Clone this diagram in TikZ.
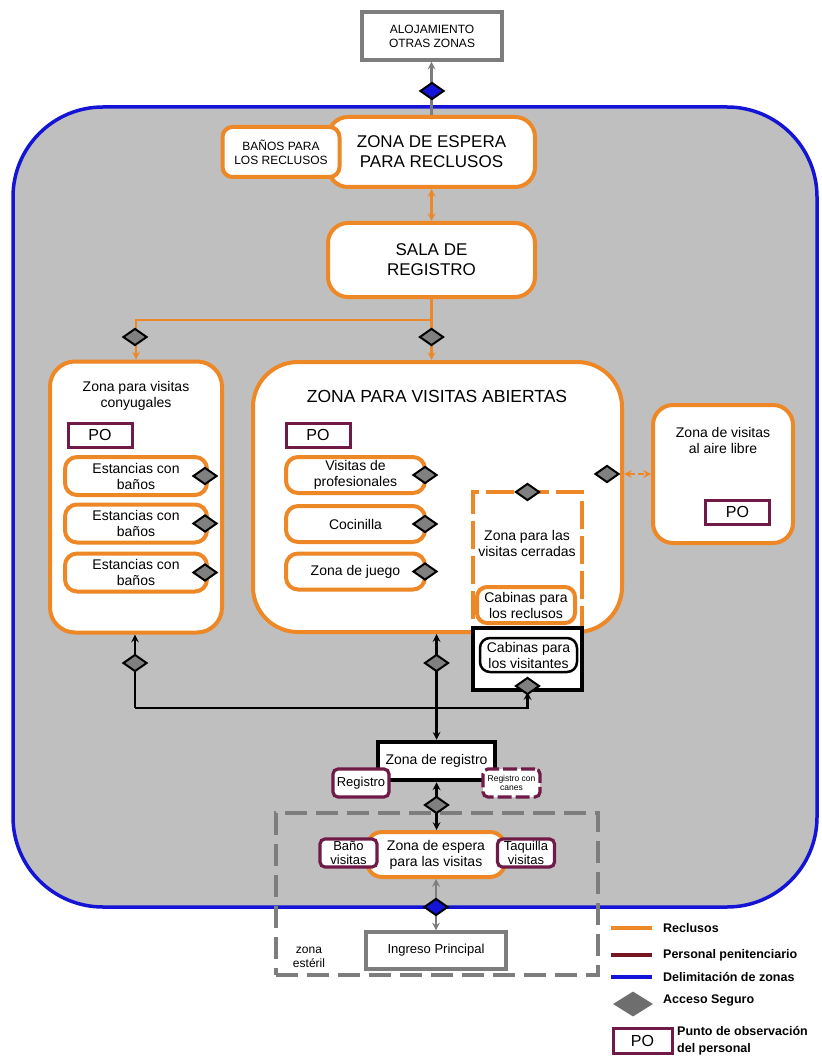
\documentclass[tikz,border=0pt]{standalone}
\usepackage{fontspec}
\setmainfont{Liberation Sans}
\usepackage{tikz}
\usetikzlibrary{positioning, shapes.geometric, arrows}
\definecolor{naranja}{RGB}{238,136,38}
\definecolor{morado}{RGB}{112,26,72}
\definecolor{personal}{RGB}{118,22,34}
\definecolor{azul}{RGB}{20,20,215}
\definecolor{fondo}{RGB}{191,191,191}
\definecolor{grisb}{RGB}{125,125,125}
\definecolor{diamante}{RGB}{128,128,128}
\definecolor{diamleg}{RGB}{110,110,110}
\newcommand\grande{\fontsize{17}{20}\selectfont}
\newcommand\medio{\fontsize{14}{16}\selectfont}
\newcommand\chico{\fontsize{12}{14}\selectfont}

\begin{document}
\begin{tikzpicture}
        [
            x=1pt, y=-1pt, >=stealth,
            zona/.style={draw=naranja, line width=4pt, fill=white,
                         rounded corners=#1, inner sep=2pt, align=center},
            zona/.default=12pt,
            po/.style={draw=morado, line width=3pt, fill=white, minimum width=64pt,
                       minimum height=24pt, inner sep=0pt, font=\fontsize{16}{16}\selectfont},
            pers/.style={draw=morado, line width=3.2pt, fill=white, rounded corners=5pt,
                         minimum width=57pt, minimum height=28pt, inner sep=0pt, align=center},
            acc/.style={diamond, draw, line width=2pt, fill=diamante,
                        minimum width=24pt, minimum height=17pt, inner sep=0pt},
            accz/.style={acc, fill=azul},
            rx/.style={draw=naranja, line width=2.4pt},
            neg/.style={draw=black, line width=2.4pt},
            gr/.style={draw=grisb, line width=2.4pt},
            txt/.style={align=center, inner sep=0pt},
            ley/.style={anchor=west, align=left, inner sep=0pt,
                        font=\bfseries\fontsize{12.5}{17}\selectfont}
        ]
        \useasboundingbox[fill=white] (0,0) rectangle (821,1064);
        \node (rec) [draw=azul, line width=3.5pt, fill=fondo, rounded corners=90pt,
                     minimum width=804pt, minimum height=800pt] at (415,507) {};
        \node (ester) [draw=grisb, line width=4pt, dash pattern=on 22pt off 9pt,
                       minimum width=322pt, minimum height=162pt] at (437,894) {};
        \node (esterT) [txt, font=\chico] at (309,957) {zona\\estéril};

        \node (aloj) [draw=grisb, line width=3.2pt, fill=white, minimum width=140pt,
                      minimum height=48pt, align=center, font=\chico] at (432,36)
                      {ALOJAMIENTO\\OTRAS ZONAS};
        \node (espR) [zona=20pt, minimum width=207pt, minimum height=70pt, font=\grande]
                      at (431.5,152) {ZONA DE ESPERA\\PARA RECLUSOS};
        \node (banR) [zona=10pt, minimum width=117pt, minimum height=50pt, font=\chico]
                      at (281,152) {BAÑOS PARA\\LOS RECLUSOS};
        \node (sala) [zona=20pt, minimum width=207pt, minimum height=74pt, font=\grande]
                      at (431.5,260) {SALA DE\\REGISTRO};

        \node (cony) [zona=25pt, minimum width=172pt, minimum height=271pt] at (136,497) {};
        \node (conyT) [txt, font=\medio] at (136,396) {Zona para visitas\\conyugales};
        \node (poC) [po] at (100,435) {PO};
        \foreach \n/\y in {1/476,2/523.5,3/572.5} {
            \node (estn\n) [zona=12pt, minimum width=142pt, minimum height=38pt, font=\medio]
                  at (136,\y) {Estancias con\\baños};
            \node (acE\n) [acc] at (205,\y) {};
        }

        \node (abi) [zona=45pt, minimum width=369pt, minimum height=270pt] at (437.5,497) {};
        \node (abiT) [txt, font=\fontsize{17.5}{20}\selectfont] at (437,396)
                     {ZONA PARA VISITAS ABIERTAS};
        \node (poA) [po] at (318,435) {PO};
        \foreach \n/\y/\lab in {pro/475/{Visitas de\\profesionales},
                                coc/524/Cocinilla, jue/571.5/Zona de juego} {
            \node (\n) [zona=12pt, minimum width=139pt, minimum height=36pt, font=\medio]
                  at (355.5,\y) {\lab};
            \node (ac\n) [acc] at (425,\y) {};
        }
        \node (cer) [draw=naranja, line width=3.5pt, dash pattern=on 28pt off 7pt,
                     minimum width=109pt, minimum height=138pt] at (527.5,561) {};
        \node (cerT) [txt, font=\medio] at (527,543) {Zona para las\\visitas cerradas};
        \node (cabR) [zona=10pt, minimum width=98pt, minimum height=36pt, font=\medio]
                     at (526,605) {Cabinas para\\los reclusos};
        \node (cabV) [draw, line width=4pt, fill=white, minimum width=109pt,
                      minimum height=62pt] at (527.5,659) {};
        \node (cabVi) [draw, line width=2.5pt, rounded corners=10pt, minimum width=97pt,
                       minimum height=34pt, align=center, font=\medio] at (528.5,655)
                       {Cabinas para\\los visitantes};

        \node (aire) [zona=20pt, minimum width=140pt, minimum height=138pt] at (723,474) {};
        \node (aireT) [txt, font=\medio] at (723,440) {Zona de visitas\\al aire libre};
        \node (poL) [po] at (737.5,512) {PO};

        \node (zreg) [draw, line width=4.5pt, fill=white, minimum width=117pt,
                      minimum height=38pt, font=\medio] at (436.5,761) {Zona de registro};
        \node (regP) [pers, minimum width=56pt, font=\fontsize{13}{15}\selectfont]
                     at (361,783) {Registro};
        \node (regC) [pers, dash pattern=on 14pt off 4pt, font=\fontsize{8.5}{9}\selectfont]
                     at (511.5,783) {Registro con\\canes};

        \node (espV) [zona=15pt, minimum width=138pt, minimum height=45pt, font=\medio]
                     at (436,854.5) {Zona de espera\\para las visitas};
        \node (banV) [pers, font=\fontsize{13}{14}\selectfont] at (348.5,853) {Baño\\visitas};
        \node (taqV) [pers, font=\fontsize{13}{14}\selectfont] at (526,853) {Taquilla\\visitas};
        \node (ing) [draw=grisb, line width=3.2pt, fill=white, minimum width=140pt,
                     minimum height=37pt, font=\fontsize{13}{15}\selectfont] at (436,950.5)
                     {Ingreso Principal};

        \draw [gr, ->] (espR.north) -- (espR.north |- aloj.south);
        \draw [rx, <->] (espR.south) -- (sala.north);
        \draw [rx, ->] (sala.south) -- (sala.south |- abi.north);
        \draw [rx, ->] (sala.south) -- ++(0,21) -| (cony.north);
        \draw [rx, <->, dash pattern=on 6pt off 3pt] (aire.west -| abi.east) -- (aire.west);
        \coordinate (jn) at (135,708);
        \draw [neg, ->] (jn) -- (jn |- cony.south);
        \draw [neg, ->] (jn) -| (cabV.south);
        \draw [neg, <->] (zreg.north |- abi.south) -- (zreg.north);
        \draw [neg, <->] (zreg.south) -- (zreg.south |- espV.north);
        \draw [gr, <->] (espV.south) -- (ing.north);

        \node (acAloj) [accz] at (432,91) {};
        \node (acC) [acc] at (135,337) {};
        \node (acA) [acc] at (431.5,337) {};
        \node (acL) [acc] at (607,474) {};
        \node (acCer) [acc] at (527.5,492) {};
        \node (acCb) [acc] at (135,663) {};
        \node (acAb) [acc] at (436.5,663) {};
        \node (acV) [acc] at (527.5,686) {};
        \node (acReg) [acc] at (436.5,805) {};
        \node (acIng) [accz] at (436,907) {};

        \foreach \c/\y/\lab in {naranja/928/Reclusos, personal/955/Personal penitenciario,
                                azul/977/Delimitación de zonas} {
            \coordinate (l\y) at (611,\y);
            \draw [\c, line width=4.5pt] (l\y) -- ++(41,0);
            \node (ley\y) [ley] at (663,\y) {\lab};
        }
        \node (leyAcc) [diamond, fill=diamleg, minimum width=40pt, minimum height=25pt,
                        inner sep=0pt] at (633,1004) {};
        \node (leyAccT) [ley] at (663,1000) {Acceso Seguro};
        \node (leyPO) [po, minimum width=59pt, minimum height=25pt] at (642.5,1040.5) {PO};
        \node (leyPOT) [ley] at (677,1041) {Punto de observación\\del personal};
    \end{tikzpicture}
\end{document}
